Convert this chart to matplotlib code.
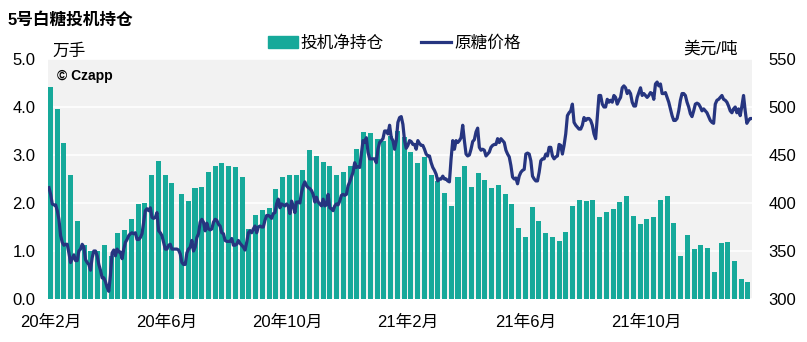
import matplotlib
matplotlib.use('Agg')
import matplotlib.pyplot as plt
from matplotlib.patches import Patch
from matplotlib.lines import Line2D
import pandas as pd

plt.rcParams['font.family'] = ['Liberation Sans', 'Noto Sans CJK SC']

# 投机净持仓（万手），周度
position = [4.42, 3.95, 3.24, 2.58, 1.63, 1.12, 1.01, 1.01, 1.12, 0.89,
            1.37, 1.43, 1.66, 1.97, 2.01, 2.59, 2.87, 2.59, 2.41,
            2.18, 2.05, 2.32, 2.33, 2.64, 2.77, 2.84, 2.78, 2.74, 2.55,
            1.45, 1.76, 1.86, 1.89, 2.29, 2.54, 2.58, 2.58, 2.69, 3.10,
            2.98, 2.85, 2.77, 2.58, 2.65, 2.77, 3.12, 3.47, 3.45, 3.33,
            3.30, 3.39, 3.51, 3.37, 3.06, 2.83, 2.96, 2.58, 2.46, 2.21,
            1.94, 2.54, 2.77, 2.33, 2.62, 2.48, 2.31, 2.37, 2.18, 1.98,
            1.48, 1.29, 1.92, 1.62, 1.37, 1.29, 1.21, 1.40, 1.94, 2.06,
            2.04, 2.06, 1.71, 1.81, 1.87, 2.02, 2.15, 1.73, 1.56, 1.67,
            1.71, 2.06, 2.15, 1.58, 0.90, 1.33, 1.04, 1.12, 1.06, 0.56,
            1.17, 1.19, 0.79, 0.42, 0.35]
position_dates = (list(pd.date_range('2020-02-04', periods=19, freq='7D'))
                  + list(pd.date_range('2020-06-19', periods=85, freq='7D')))

# 原糖价格（美元/吨），日度
price = [
    416, 409, 399, 398, 398, 392, 383, 366, 359, 356, 357, 357, 348, 338, 342,
    346, 340, 340, 350, 352, 357, 354, 341, 338, 336, 330, 343, 350, 350, 345,
    336, 330, 322, 322, 318, 312, 308, 325, 348, 351, 345, 352, 349, 349, 342,
    352, 359, 362, 366, 368, 369, 368, 369, 362, 362, 364, 368, 380, 392, 394,
    392, 395, 385, 384, 385, 390, 371, 369, 366, 359,
    352, 352, 356, 357, 352, 352, 352, 352, 351, 347, 338, 336, 336, 348, 352,
    354, 361, 350, 354, 364, 368, 380, 383, 380, 371, 379, 373, 372, 373, 380,
    383, 382, 378, 376, 369, 368, 361, 360, 360, 360, 363, 356, 356, 357, 361,
    358, 356, 354, 351, 359, 369, 371, 369, 373, 376, 369, 375, 376, 375, 375,
    382, 387, 387, 386, 384, 389, 390, 399, 404, 395, 399,
    398, 397, 399, 397, 389, 402, 397, 390, 401, 401, 400, 411, 418, 422, 418,
    416, 415, 413, 409, 401, 406, 401, 399, 397, 404, 397, 398, 409, 395, 394,
    392, 397, 399, 398, 402, 408, 409, 408, 409, 418, 422, 427, 432, 442, 437,
    438, 437, 451, 465, 463, 468, 453, 446, 446, 446, 446, 442, 456, 463, 465,
    467, 475, 475, 472, 481, 468, 465, 456, 465, 484, 489,
    490, 482, 465, 457, 460, 465, 464, 461, 461, 456, 465, 462, 460, 460, 456,
    451, 449, 449, 442, 437, 434, 430, 423, 425, 425, 428, 425, 425, 423, 422,
    446, 465, 456, 465, 463, 465, 468, 481, 465, 451, 449, 450, 456, 464, 466,
    474, 478, 458, 455, 456, 455, 449, 451, 453, 458, 460, 461, 461, 467, 463,
    467, 465, 463, 455, 451, 448, 439, 427, 425, 426, 420,
    428, 432, 434, 435, 451, 452, 451, 444, 428, 425, 423, 423, 432, 444, 446,
    446, 451, 449, 458, 458, 449, 446, 448, 449, 461, 460, 451, 460, 472, 491,
    494, 496, 503, 484, 481, 479, 477, 477, 481, 489, 486, 488, 488, 486, 481,
    472, 467, 490, 512, 512, 503, 500, 500, 508, 505, 507, 505, 512, 510, 503,
    507, 510, 520, 522, 520, 514, 517, 514, 505, 501, 501,
    510, 515, 520, 512, 514, 512, 510, 512, 515, 514, 508, 524, 526, 522, 524,
    514, 514, 515, 510, 505, 498, 491, 486, 486, 488, 496, 507, 514, 514, 512,
    505, 500, 493, 490, 496, 503, 504, 503, 500, 496, 498, 496, 494, 490, 486,
    484, 483, 503, 507, 508, 510, 512, 508, 507, 505, 501, 496, 494, 498, 500,
    494, 498, 491, 501, 512, 496, 483, 486, 488, 488,
]
price_dates = pd.date_range('2020-02-02 10:00', '2022-02-01 00:00', periods=len(price))

tick_dates = pd.to_datetime(['2020-02-04', '2020-06-04', '2020-10-07',
                             '2021-02-09', '2021-06-11', '2021-10-14'])
tick_labels = [f'{d.year % 100}年{d.month}月' for d in tick_dates]

bar_color = '#16A99A'
line_color = '#263580'

fig = plt.figure(figsize=(8.07, 3.42), dpi=100)
ax = fig.add_axes([48 / 807, 43 / 342, 704 / 807, 240 / 342])
ax.set_facecolor('#F2F2F2')
ax.bar(position_dates, position, width=5.2, color=bar_color, zorder=2)
ax.set_ylim(0, 5)
ax.set_yticks([0, 1, 2, 3, 4, 5])
ax.set_yticklabels([f'{v:.1f}' for v in range(6)])
ax.grid(axis='y', color='white', linewidth=1.2, zorder=1)
ax.set_axisbelow(True)
ax.set_xlim(pd.Timestamp('2020-02-01 10:00'), pd.Timestamp('2022-02-01 04:00'))
ax.set_xticks(tick_dates)
ax.set_xticklabels(tick_labels)
ax.tick_params(axis='y', length=0, labelsize=12, pad=9)
ax.tick_params(axis='x', length=0, labelsize=12, pad=11)
for s in ax.spines.values():
    s.set_visible(False)

ax2 = ax.twinx()
ax2.plot(price_dates, price, color=line_color, linewidth=2.3, zorder=3)
ax2.set_ylim(300, 550)
ax2.set_yticks(range(300, 551, 50))
ax2.tick_params(axis='y', length=0, labelsize=12, pad=12)
for s in ax2.spines.values():
    s.set_visible(False)

fig.text(8 / 807, 1 - 20 / 342, '5号白糖投机持仓', fontsize=12, fontweight='bold',
         va='center', ha='left')
fig.text(52 / 807, 1 - 51 / 342, '万手', fontsize=12, va='center', ha='left')
fig.text(683 / 807, 1 - 49 / 342, '美元/吨', fontsize=12, va='center', ha='left')
fig.text(57 / 807, 1 - 76 / 342, '© Czapp', fontsize=10, fontweight='bold',
         va='center', ha='left', zorder=5)

handles = [Patch(color=bar_color), Line2D([], [], color=line_color, linewidth=2.3)]
fig.legend(handles, ['投机净持仓', '原糖价格'], loc='center',
           bbox_to_anchor=(394 / 807, 1 - 43 / 342), ncol=2, frameon=False,
           fontsize=12, handlelength=1.8, handletextpad=0.2, columnspacing=2.2,
           borderpad=0, borderaxespad=0)

fig.savefig('out.png', dpi=100)
